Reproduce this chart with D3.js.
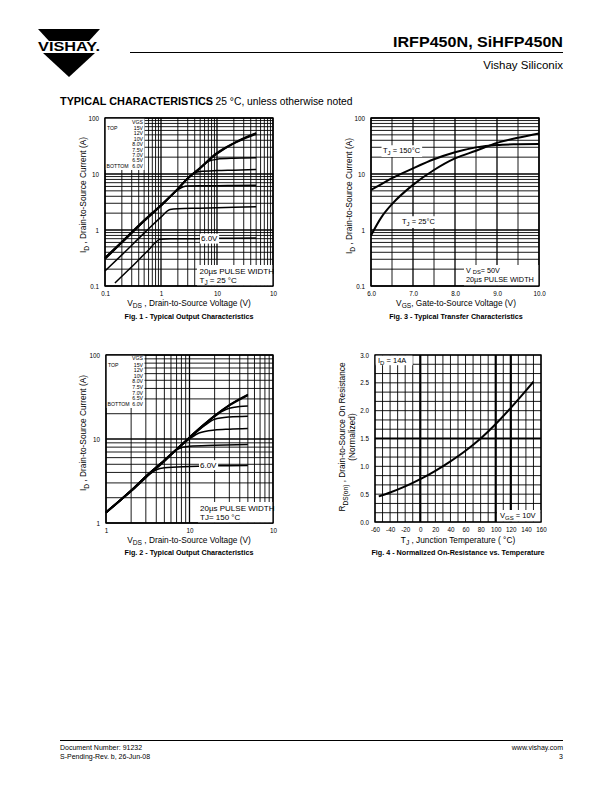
<!DOCTYPE html>
<html><head><meta charset="utf-8">
<script src="https://cdn.jsdelivr.net/npm/d3@7/dist/d3.min.js"></script>
<style>
body{margin:0;background:#fff}
svg{display:block}
text{font-family:"Liberation Sans",Arial,Helvetica,sans-serif;fill:#000}
</style></head>
<body><svg id="page" width="612" height="792"></svg>
<script>
// ---------- DATA ----------
const vgsLabels = ["15V","12V","10V","8.0V","7.5V","7.0V","6.5V","6.0V"];

// Fig 1 (TJ = 25 °C)
const fig1Vds      = [0.1,0.2,0.5,1,2,3,5,8,10,20,30,50];
const fig1Id15V    = [0.32,0.62,1.5,2.8,5.5,8.5,13,20,24,36,44,54];
const fig1Id12V    = [0.32,0.61,1.48,2.78,5.45,8.4,12.8,19.6,23.3,35.5,43,53];
const fig1Id10V    = [0.31,0.6,1.46,2.75,5.4,8.3,12.6,19.2,22.8,35,42,51.5];
const fig1Vds8V    = [0.1,0.2,0.5,1,2,3,5,7,10,20,30,50];
const fig1Id8V     = [0.315,0.61,1.47,2.76,5.4,8.35,12.6,16.8,18.4,19.1,19.3,19.5];
const fig1Vds75V   = [0.1,0.2,0.5,1,2,3,4,5,10,20,50];
const fig1Id75V    = [0.31,0.6,1.45,2.72,5.35,8.2,10.4,11.1,11.5,11.7,12.0];
const fig1Vds7V    = [0.1,0.2,0.5,1,2,2.5,3,5,10,20,50];
const fig1Id7V     = [0.3,0.59,1.43,2.68,5.2,5.9,6.1,6.2,6.2,6.25,6.3];
const fig1Vds65V   = [0.1,0.2,0.5,1,1.45,2,5,10,20,50];
const fig1Id65V    = [0.186,0.36,0.88,1.7,2.33,2.4,2.45,2.5,2.55,2.6];
const fig1Vds6V    = [0.15,0.3,0.6,0.96,1.5,3,10,50];
const fig1Id6V     = [0.113,0.22,0.44,0.68,0.7,0.7,0.71,0.72];

// Fig 2 (TJ = 150 °C)
const fig2Vds      = [1,1.5,2,3,5,7,10,15,20,30,50];
const fig2Id15V    = [1.35,1.9,2.45,3.6,5.6,7.6,10.5,15,19,25.5,34];
const fig2Id12V    = [1.35,1.9,2.45,3.6,5.6,7.6,10.5,15,19,25.3,33.5];
const fig2Id10V    = [1.34,1.9,2.44,3.58,5.55,7.55,10.4,14.8,18.8,25,33];
const fig2Vds8V    = [1,1.5,2,3,5,7,10,15,20,25,30,40,50];
const fig2Id8V     = [1.34,1.89,2.43,3.56,5.5,7.5,10.3,14.6,18.5,21.5,23.2,24.3,24.7];
const fig2Vds75V   = [1,1.5,2,3,5,7,10,15,20,30,50];
const fig2Id75V    = [1.33,1.88,2.42,3.55,5.5,7.45,10.2,14.3,17.2,18.3,18.7];
const fig2Vds7V    = [1,1.5,2,3,5,7,10,13,20,30,50];
const fig2Id7V     = [1.33,1.88,2.4,3.52,5.45,7.4,10,11.8,12.8,13.1,13.3];
const fig2Vds65V   = [1,1.5,2,3,5,6,7,10,20,50];
const fig2Id65V    = [1.32,1.87,2.4,3.5,5.4,6.5,7.5,8.2,8.4,8.6];
const fig2Vds6V    = [1,1.5,2,3,3.5,4,5,10,20,50];
const fig2Id6V     = [1.32,1.86,2.38,3.45,3.95,4.3,4.55,4.7,4.8,4.85];

// Fig 3 (transfer)
const fig3Vgs      = [6.0,6.25,6.5,7.0,7.5,8.0,8.5,9.0,9.5,10.0];
const fig3Id25C    = [0.8,1.7,2.9,6.4,11.8,19,26,36,44.5,53];
const fig3Id150C   = [5.2,6.6,8.4,12.6,18.3,24.4,29.9,33,34,34.5];

// Fig 4 (normalized RDS(on))
const fig4Tj       = [-55,-40,-20,0,20,40,60,80,100,120,140,150];
const fig4Rds      = [0.46,0.53,0.64,0.77,0.92,1.09,1.28,1.5,1.76,2.05,2.36,2.52];

// tick labels
const fig1XTicks = [0.1,1,10,100], fig1XLabels = ["0.1","1","10","10"];
const fig1YTicks = [0.1,1,10,100], fig1YLabels = ["0.1","1","10","100"];
const fig2XTicks = [1,10,100],     fig2XLabels = ["1","10","10"];
const fig2YTicks = [1,10,100],     fig2YLabels = ["1","10","100"];
const fig3XTicks = [6,7,8,9,10],   fig3XLabels = ["6.0","7.0","8.0","9.0","10.0"];
const fig3YTicks = [0.1,1,10,100], fig3YLabels = ["0.1","1","10","100"];
const fig4XTicks = [-60,-40,-20,0,20,40,60,80,100,120,140,160];
const fig4YTicks = [0,0.5,1,1.5,2,2.5,3];
const fig4YLabels = ["0.0","0.5","1.0","1.5","2.0","2.5","3.0"];

// ---------- HELPERS ----------
const svg = d3.select('#page');
const FONT = '"Liberation Sans",Arial,Helvetica,sans-serif';

function rich(t, parts, fs, subShift){
  let shift = 0;
  const ss = subShift === undefined ? 0.3 : subShift;
  parts.forEach(([s, sub]) => {
    const target = sub ? fs*ss : 0;
    const sp = t.append('tspan').text(s).attr('dy', target - shift);
    if (sub) sp.attr('font-size', fs*0.8);
    shift = target;
  });
  return t;
}
function logGrid(min, max){
  const out = [];
  for (let e = Math.floor(Math.log10(min)); e <= Math.ceil(Math.log10(max)); e++)
    for (let k = 1; k < 10; k++){
      const v = k*Math.pow(10, e);
      if (v >= min*0.999 && v <= max*1.001) out.push({v, major: k === 1});
    }
  return out;
}
function whiteBehind(g, textSel, pad){
  const b = textSel.node().getBBox();
  g.insert('rect', () => textSel.node())
    .attr('x', b.x - pad).attr('y', b.y - pad*0.5)
    .attr('width', b.width + 2*pad).attr('height', b.height + pad)
    .attr('fill', '#fff');
}

function drawGrid(g, x, y, xs, ys){
  g.append('g').selectAll('line').data(xs).join('line')
    .attr('x1', d => x(d.v)).attr('x2', d => x(d.v))
    .attr('y1', y.range()[0]).attr('y2', y.range()[1])
    .attr('stroke', '#000').attr('stroke-width', d => d.w || (d.major ? 1.3 : 0.9));
  g.append('g').selectAll('line').data(ys).join('line')
    .attr('y1', d => y(d.v)).attr('y2', d => y(d.v))
    .attr('x1', x.range()[0]).attr('x2', x.range()[1])
    .attr('stroke', '#000').attr('stroke-width', d => d.w || (d.major ? 1.3 : 0.9));
}
function drawCurve(g, x, y, xs, ys, w){
  const pts = xs.map((v, i) => [v, ys[i]]);
  g.append('path').datum(pts)
    .attr('d', d3.line().x(d => x(d[0])).y(d => y(d[1])).curve(d3.curveMonotoneX))
    .attr('fill', 'none').attr('stroke', '#000').attr('stroke-width', w)
    .attr('stroke-linejoin', 'round').attr('stroke-linecap', 'butt');
}
function frame(g, x, y){
  g.append('rect').attr('x', x.range()[0]).attr('y', y.range()[1])
    .attr('width', x.range()[1]-x.range()[0]).attr('height', y.range()[0]-y.range()[1])
    .attr('fill', 'none').attr('stroke', '#000').attr('stroke-width', 1.4);
}
function tickLabels(g, x, y, xt, xl, yt, yl){
  const xa = g.append('g').attr('transform', `translate(0,${y.range()[0]+3})`)
    .call(d3.axisBottom(x).tickValues(xt).tickFormat((d,i) => xl[i]).tickSize(0));
  xa.select('.domain').remove();
  xa.selectAll('text').attr('font-family', FONT).attr('font-size', 6.3).attr('fill', '#000').attr('dy', '0.71em');
  const ya = g.append('g').attr('transform', `translate(${x.range()[0]-3},0)`)
    .call(d3.axisLeft(y).tickValues(yt).tickFormat((d,i) => yl[i]).tickSize(0));
  ya.select('.domain').remove();
  ya.selectAll('text').attr('font-family', FONT).attr('font-size', 6.3).attr('fill', '#000');
}
function legend(g, x0, yTop, step, right){
  const fs = 5.2;
  g.append('text').attr('x', right).attr('y', yTop).attr('text-anchor', 'end')
    .attr('font-size', fs).attr('dominant-baseline', 'middle').text('VGS');
  vgsLabels.forEach((lab, i) => {
    const yy = yTop + 6.3 + i*step;
    g.append('text').attr('x', right).attr('y', yy).attr('text-anchor', 'end')
      .attr('font-size', fs).attr('dominant-baseline', 'middle').text(lab);
    if (i === 0) g.append('text').attr('x', x0 + 2).attr('y', yy).attr('font-size', fs)
      .attr('dominant-baseline', 'middle').text('TOP');
    if (i === vgsLabels.length-1) g.append('text').attr('x', x0 + 1.5).attr('y', yy).attr('font-size', fs)
      .attr('dominant-baseline', 'middle').text('BOTTOM');
  });
}
function xTitle(g, cx, yb, parts){
  rich(g.append('text').attr('x', cx).attr('y', yb).attr('text-anchor', 'middle').attr('font-size', 8.3), parts, 8.3);
}
function yTitle(g, cx, cy, parts, fs){
  rich(g.append('text').attr('transform', `translate(${cx},${cy}) rotate(-90)`)
    .attr('text-anchor', 'middle').attr('font-size', fs || 8.3), parts, fs || 8.3);
}
function caption(g, cx, yb, s){
  g.append('text').attr('x', cx).attr('y', yb).attr('text-anchor', 'middle')
    .attr('font-size', 7.2).attr('font-weight', 'bold').text(s);
}

// ---------- HEADER ----------
const hdr = svg.append('g');
hdr.append('path').attr('d', 'M38,29 L100,29 L89,41 L49,41 Z').attr('fill', '#000');
hdr.append('path').attr('d', 'M43,53 L95,53 L69,77 Z').attr('fill', '#000');
hdr.append('text').attr('x', 38).attr('y', 50.5).attr('font-size', 13).attr('font-weight', 'bold')
  .attr('textLength', 62).attr('lengthAdjust', 'spacingAndGlyphs').text('VISHAY.');
hdr.append('text').attr('x', 563).attr('y', 47).attr('text-anchor', 'end')
  .attr('font-size', 15.5).attr('font-weight', 'bold')
  .attr('textLength', 170).attr('lengthAdjust', 'spacingAndGlyphs').text('IRFP450N, SiHFP450N');
hdr.append('line').attr('x1', 130).attr('x2', 563).attr('y1', 52.5).attr('y2', 52.5)
  .attr('stroke', '#000').attr('stroke-width', 1);
hdr.append('text').attr('x', 563).attr('y', 68.5).attr('text-anchor', 'end')
  .attr('font-size', 11.5).text('Vishay Siliconix');
hdr.append('text').attr('x', 60).attr('y', 104.5).attr('font-size', 10).attr('font-weight', 900)
  .attr('textLength', 153).attr('lengthAdjust', 'spacingAndGlyphs').text('TYPICAL CHARACTERISTICS');
hdr.append('text').attr('x', 215.5).attr('y', 104.5).attr('font-size', 10)
  .attr('textLength', 137).attr('lengthAdjust', 'spacingAndGlyphs').text('25 °C, unless otherwise noted');

// ---------- FIG 1 ----------
{
  const g = svg.append('g');
  const x = d3.scaleLog().domain([0.1, 100]).range([105, 273]);
  const y = d3.scaleLog().domain([0.1, 100]).range([286, 118]);
  drawGrid(g, x, y, logGrid(0.1, 100), logGrid(0.1, 100));
  g.append('rect').attr('x', 105).attr('y', 118).attr('width', 39.5).attr('height', 52).attr('fill', '#fff');
  drawCurve(g, x, y, fig1Vds, fig1Id15V, 1.6);
  drawCurve(g, x, y, fig1Vds, fig1Id12V, 1.6);
  drawCurve(g, x, y, fig1Vds, fig1Id10V, 1.6);
  drawCurve(g, x, y, fig1Vds8V, fig1Id8V, 1.5);
  drawCurve(g, x, y, fig1Vds75V, fig1Id75V, 1.5);
  drawCurve(g, x, y, fig1Vds7V, fig1Id7V, 1.5);
  drawCurve(g, x, y, fig1Vds65V, fig1Id65V, 1.5);
  drawCurve(g, x, y, fig1Vds6V, fig1Id6V, 1.5);
  frame(g, x, y);
  legend(g, 105, 122.3, 5.4, 143);
  const l6 = g.append('text').attr('x', 201).attr('y', 239).attr('dominant-baseline', 'middle')
    .attr('font-size', 8).text('6.0V');
  whiteBehind(g, l6, 1);
  g.append('rect').attr('x', 197).attr('y', 265).attr('width', 75.3).attr('height', 20.3).attr('fill', '#fff');
  g.append('text').attr('x', 199.5).attr('y', 274).attr('font-size', 8).text('20µs PULSE WIDTH');
  rich(g.append('text').attr('x', 199.5).attr('y', 282.5).attr('font-size', 8),
    [['T'],['J',1],[' = 25 °C']], 8);
  tickLabels(g, x, y, fig1XTicks, fig1XLabels, fig1YTicks, fig1YLabels);
  xTitle(g, 189, 306, [['V'],['DS',1],[' , Drain-to-Source Voltage (V)']]);
  yTitle(g, 86, 195, [['I'],['D',1],[' ,  Drain-to-Source Current (A)']]);
  caption(g, 189, 318.5, 'Fig. 1 - Typical Output Characteristics');
}

// ---------- FIG 3 ----------
{
  const g = svg.append('g');
  const x = d3.scaleLinear().domain([6, 10]).range([371, 539]);
  const y = d3.scaleLog().domain([0.1, 100]).range([286, 118]);
  const xs = d3.range(6, 10.01, 0.5).map(v => ({v, major: Math.abs(v - Math.round(v)) < 1e-6}));
  drawGrid(g, x, y, xs, logGrid(0.1, 100));
  drawCurve(g, x, y, fig3Vgs, fig3Id150C, 2);
  drawCurve(g, x, y, fig3Vgs, fig3Id25C, 2);
  frame(g, x, y);
  const t150 = rich(g.append('text').attr('x', 383).attr('y', 153).attr('font-size', 7.5),
    [['T'],['J',1],[' = 150°C']], 7.5);
  whiteBehind(g, t150, 1.5);
  const t25 = rich(g.append('text').attr('x', 402).attr('y', 224).attr('font-size', 7.5),
    [['T'],['J',1],[' = 25°C']], 7.5);
  whiteBehind(g, t25, 1.5);
  g.append('rect').attr('x', 464).attr('y', 265).attr('width', 74.3).attr('height', 20.3).attr('fill', '#fff');
  rich(g.append('text').attr('x', 466).attr('y', 272.5).attr('font-size', 7.2),
    [['V '],['DS',1],['= 50V']], 7.2, 0.15);
  g.append('text').attr('x', 466).attr('y', 282).attr('font-size', 7.3).text('20µs PULSE WIDTH');
  tickLabels(g, x, y, fig3XTicks, fig3XLabels, fig3YTicks, fig3YLabels);
  xTitle(g, 456, 306, [['V'],['GS',1],[', Gate-to-Source Voltage (V)']]);
  yTitle(g, 352, 196, [['I'],['D',1],[' ,  Drain-to-Source Current (A)']]);
  caption(g, 456, 318.5, 'Fig. 3 - Typical Transfer Characteristics');
}

// ---------- FIG 2 ----------
{
  const g = svg.append('g');
  const x = d3.scaleLog().domain([1, 100]).range([106, 273]);
  const y = d3.scaleLog().domain([1, 100]).range([523, 355]);
  drawGrid(g, x, y, logGrid(1, 100), logGrid(1, 100));
  g.append('rect').attr('x', 106).attr('y', 355).attr('width', 38.5).attr('height', 53).attr('fill', '#fff');
  drawCurve(g, x, y, fig2Vds, fig2Id15V, 1.6);
  drawCurve(g, x, y, fig2Vds, fig2Id12V, 1.6);
  drawCurve(g, x, y, fig2Vds, fig2Id10V, 1.6);
  drawCurve(g, x, y, fig2Vds8V, fig2Id8V, 1.5);
  drawCurve(g, x, y, fig2Vds75V, fig2Id75V, 1.5);
  drawCurve(g, x, y, fig2Vds7V, fig2Id7V, 1.5);
  drawCurve(g, x, y, fig2Vds65V, fig2Id65V, 1.5);
  drawCurve(g, x, y, fig2Vds6V, fig2Id6V, 1.5);
  frame(g, x, y);
  legend(g, 106, 359, 5.6, 143);
  const l6 = g.append('text').attr('x', 200).attr('y', 465.5).attr('dominant-baseline', 'middle')
    .attr('font-size', 8).text('6.0V');
  whiteBehind(g, l6, 1);
  g.append('rect').attr('x', 198).attr('y', 502).attr('width', 74.3).attr('height', 20.3).attr('fill', '#fff');
  g.append('text').attr('x', 200).attr('y', 511).attr('font-size', 8).text('20µs PULSE WIDTH');
  g.append('text').attr('x', 200).attr('y', 520).attr('font-size', 8).text('TJ= 150 °C');
  tickLabels(g, x, y, fig2XTicks, fig2XLabels, fig2YTicks, fig2YLabels);
  xTitle(g, 189, 543, [['V'],['DS',1],[' , Drain-to-Source Voltage (V)']]);
  yTitle(g, 86, 433, [['I'],['D',1],[' ,  Drain-to-Source Current (A)']]);
  caption(g, 189, 555, 'Fig. 2 - Typical Output Characteristics');
}

// ---------- FIG 4 ----------
{
  const g = svg.append('g');
  const x = d3.scaleLinear().domain([-60, 160]).range([375, 541]);
  const y = d3.scaleLinear().domain([0, 3]).range([522, 355]);
  const thickT = [0, 100, 120];
  const xs = d3.range(-60, 161, 10).map(v => ({v, w: thickT.includes(v) ? 2.2 : 0.9}));
  const ys = d3.range(0, 19).map(k => ({v: k/6, w: k === 9 ? 2.2 : 0.9}));
  drawGrid(g, x, y, xs, ys);
  drawCurve(g, x, y, fig4Tj, fig4Rds, 2);
  frame(g, x, y);
  g.append('rect').attr('x', 375.7).attr('y', 355.7).attr('width', 37).attr('height', 9.5).attr('fill', '#fff');
  rich(g.append('text').attr('x', 378).attr('y', 362.5).attr('font-size', 7.5),
    [['I'],['D',1],[' = 14A']], 7.5);
  g.append('rect').attr('x', 497).attr('y', 510).attr('width', 43.3).attr('height', 11.3).attr('fill', '#fff');
  rich(g.append('text').attr('x', 500).attr('y', 517.5).attr('font-size', 7.5),
    [['V'],['GS',1],[' = 10V']], 7.5);
  tickLabels(g, x, y, fig4XTicks, fig4XTicks.map(String), fig4YTicks, fig4YLabels);
  xTitle(g, 458, 542.5, [['T'],['J',1],[' , Junction Temperature ( °C)']]);
  yTitle(g, 345, 437, [['R'],['DS(on)',1],[' , Drain-to-Source On Resistance']], 8.3);
  g.append('text').attr('transform', 'translate(355,437) rotate(-90)').attr('text-anchor', 'middle')
    .attr('font-size', 8.3).text('(Normalized)');
  caption(g, 458, 555, 'Fig. 4 - Normalized On-Resistance vs. Temperature');
}

// ---------- FOOTER ----------
const ft = svg.append('g');
ft.append('line').attr('x1', 60).attr('x2', 563).attr('y1', 740.5).attr('y2', 740.5)
  .attr('stroke', '#000').attr('stroke-width', 1);
ft.append('text').attr('x', 60).attr('y', 749.5).attr('font-size', 7).text('Document Number: 91232');
ft.append('text').attr('x', 60).attr('y', 758.5).attr('font-size', 7).text('S-Pending-Rev. b, 26-Jun-08');
ft.append('text').attr('x', 563).attr('y', 749.5).attr('text-anchor', 'end').attr('font-size', 7).text('www.vishay.com');
ft.append('text').attr('x', 563).attr('y', 758.5).attr('text-anchor', 'end').attr('font-size', 7).text('3');
</script>
</body></html>
